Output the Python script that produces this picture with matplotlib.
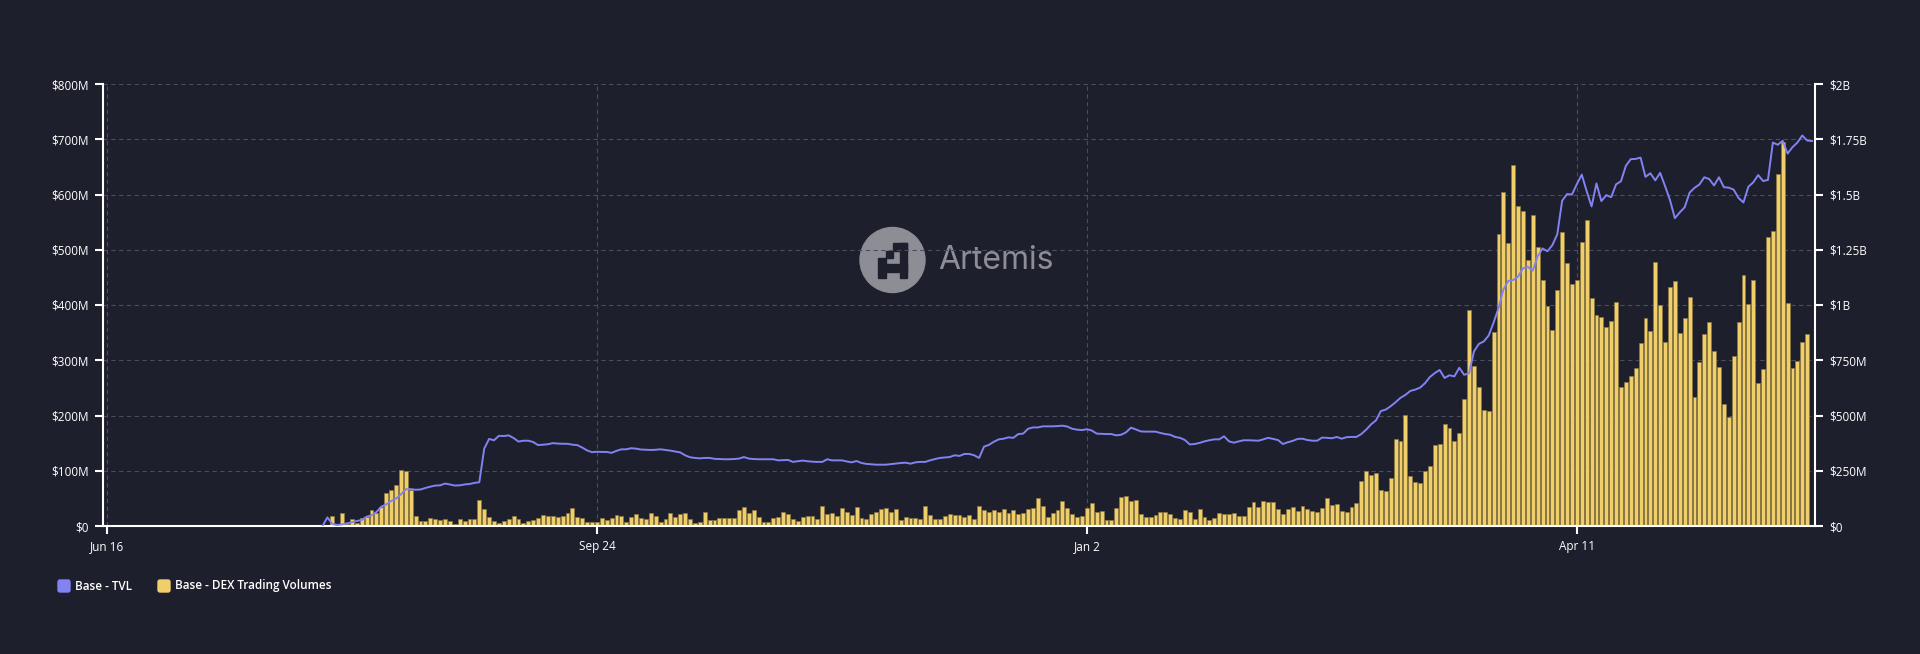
import pandas as pd
import matplotlib
matplotlib.use("Agg")
import matplotlib.pyplot as plt
import matplotlib.dates as mdates
from matplotlib.patches import Circle, Rectangle, FancyBboxPatch
from matplotlib.transforms import IdentityTransform

# Base - DEX trading volumes, $M per day (from 2023-08-01)
dex_volume = [
    18, 2, 23.5, 4, 12.7, 5, 14.5, 17, 29, 23,
    34, 60, 65, 74, 101, 99, 65, 18, 9, 9,
    14.5, 12.7, 11, 12.7, 9, 4, 12.7, 9, 12.7, 12.7,
    47, 31, 16, 9, 5.4, 9, 12.7, 18, 12.7, 5.4,
    9, 11, 14.5, 20, 18, 18, 16, 18, 23.5, 32.6,
    16, 14.5, 7, 7, 7, 14.5, 11, 14.5, 20, 18,
    7, 16, 21.7, 14.5, 12.7, 23.5, 18, 7, 12.7, 23.5,
    16, 21.7, 23.5, 12.7, 5.4, 7, 25.3, 11, 11, 14.5,
    14.5, 14.5, 14.5, 29, 34.4, 23.5, 29, 16, 7, 7,
    14.5, 16, 25.3, 21.7, 12.7, 9, 16, 18, 18, 12.7,
    36, 21.7, 23.5, 18, 32.6, 25.3, 20, 34.4, 14.5, 12.7,
    21.7, 25.3, 30.8, 32.6, 25.3, 30.8, 11, 16, 14.5, 14.5,
    12.7, 36, 20, 12.7, 12.7, 18, 21.7, 20, 20, 16,
    20, 12.7, 36, 29, 25.3, 29, 25.3, 30.8, 23.5, 29,
    21.7, 23.5, 30.8, 32.6, 50.7, 36, 16, 23.5, 29, 45,
    32.6, 21.7, 16, 18, 32.6, 41.6, 25.3, 27, 11, 11,
    32.6, 52.5, 54.3, 45, 47, 21.7, 16, 16, 20, 25.3,
    25.3, 21.7, 14.5, 12.7, 29, 25.3, 12.7, 30.8, 16, 11,
    14.5, 23.5, 21.7, 21.7, 23.5, 18, 18, 34.4, 43.4, 34.4,
    45, 43.4, 43.4, 30.8, 21.7, 30.8, 34.4, 27, 36, 30.8,
    27, 25.3, 32.6, 50.7, 38, 39.8, 27, 25.3, 34.4, 41.6,
    81.4, 99.5, 92.3, 96, 65, 63.3, 86.9, 157.5, 153.8, 201,
    90.5, 79.6, 77.8, 99.5, 108.6, 146.6, 148.4, 184.6, 177.4, 153.8,
    168.3, 229.9, 391, 289.6, 251.6, 210, 208, 351, 528, 604,
    512, 653, 579, 570, 481, 563, 505, 445, 398, 355,
    427, 532, 476, 438, 445, 514, 554, 413, 382, 378,
    360, 371, 405, 252, 261, 271, 286, 331, 376, 353,
    478, 400, 333, 433, 443, 349, 376, 414, 233, 297,
    348, 369, 317, 288, 221, 197, 308, 369, 454, 402,
    445, 259, 284, 523, 534, 637, 695, 404, 286, 299,
    333, 348,
]

# Base - TVL, $M per day (from 2023-07-30)
tvl = [
    0, 39, 9, 4.5, 7.5, 12, 16.6, 22.6, 27, 42,
    48, 63, 87.5, 98, 113, 124, 143, 166, 167, 164,
    165, 172, 178, 183, 184, 192, 188, 183, 184, 188,
    190, 195, 198, 350, 394, 388, 408, 407, 410, 398,
    382, 386, 386, 380, 366, 368, 370, 375, 373, 372,
    372, 368, 366, 355, 342, 334, 336, 335, 335, 331,
    340, 347, 347, 352, 350, 346, 345, 344, 345, 347,
    344, 341, 337, 333, 320, 311, 308, 306, 308, 308,
    304, 303, 302, 302, 303, 305, 312, 305, 303, 302,
    302, 302, 302, 297, 298, 299, 290, 293, 296, 293,
    291, 290, 290, 302, 297, 297, 297, 292, 288, 294,
    285, 281, 279, 277.5, 277.5, 277.5, 280, 283, 285, 286.6,
    282, 288, 290, 290, 297, 303, 308, 310, 312, 320,
    317, 326, 326, 320, 308, 359, 367, 381, 392, 395,
    401, 399, 416, 418, 440, 446, 446, 451, 451, 451,
    452, 454, 450, 440, 436, 434, 438, 432, 418, 417,
    416, 416, 410, 413, 424, 445, 437, 428, 427, 427,
    427, 421, 416, 413, 403, 399, 389, 369, 371, 376,
    383, 388, 392, 392, 406, 383, 377, 383, 388, 388,
    387, 386, 392, 399, 394, 389, 371, 379, 385, 394,
    395, 389, 386, 386, 400, 399, 397, 403, 395, 402,
    403, 403, 416, 436, 460, 478, 520, 527, 542, 560,
    580, 593, 611, 617, 626, 646, 674, 692, 706, 670,
    682, 677, 716, 684, 691, 790, 824, 835, 862, 920,
    985, 1070, 1109, 1113, 1128, 1166, 1173, 1155, 1220, 1256,
    1243, 1271, 1320, 1472, 1502, 1500, 1547, 1590, 1515, 1446,
    1550, 1470, 1497, 1488, 1546, 1560, 1630, 1660, 1661, 1667,
    1580, 1596, 1564, 1598, 1538, 1475, 1393, 1419, 1442, 1508,
    1530, 1545, 1578, 1570, 1541, 1578, 1533, 1531, 1522, 1484,
    1464, 1535, 1555, 1588, 1561, 1566, 1735, 1725, 1743, 1685,
    1714, 1735, 1767, 1744, 1742,
]

dex_dates = pd.date_range("2023-08-01", periods=len(dex_volume), freq="D")
tvl_dates = pd.date_range("2023-07-30", periods=len(tvl), freq="D")

x_ticks = pd.to_datetime(["2023-06-16", "2023-09-24", "2024-01-02", "2024-04-11"])
x_labels = [f"{d:%b} {d.day}" for d in x_ticks]
left_ticks = [0, 100, 200, 300, 400, 500, 600, 700, 800]
left_labels = ["$0", "$100M", "$200M", "$300M", "$400M", "$500M", "$600M", "$700M", "$800M"]
right_ticks = [0, 250, 500, 750, 1000, 1250, 1500, 1750, 2000]
right_labels = ["$0", "$250M", "$500M", "$750M", "$1B", "$1.25B", "$1.5B", "$1.75B", "$2B"]

BG = "#1e1f2c"
YELLOW = "#f0cf6b"
PURPLE = "#8282f2"
GRID = "#4b4d5c"
W, H = 1920, 654

plt.rcParams["font.family"] = ["Open Sans", "DejaVu Sans"]

fig = plt.figure(figsize=(W / 100, H / 100), dpi=100, facecolor=BG)
ax = fig.add_axes([103 / W, 1 - 526 / H, (1815 - 103) / W, (526 - 84) / H])
ax.patch.set_visible(False)
ax.set_axisbelow(True)

ax.bar(dex_dates, dex_volume, width=0.8, color=YELLOW, edgecolor="#8a7841",
       linewidth=0.5, zorder=2)

x0 = mdates.date2num(x_ticks[0])
ax.set_xlim(x0 - 0.8, x0 + 348.6)
ax.set_ylim(0, 800)
ax.set_xticks(x_ticks)
ax.set_xticklabels(x_labels)
ax.set_yticks(left_ticks)
ax.set_yticklabels(left_labels)
ax.grid(True, color=GRID, linestyle=(0, (4, 3)), linewidth=0.8)

for s in ["top", "right"]:
    ax.spines[s].set_visible(False)
for s in ["left", "bottom"]:
    ax.spines[s].set_color("white")
    ax.spines[s].set_linewidth(1.5)
ax.tick_params(colors="white", labelcolor="white", length=6, width=1.5,
               labelsize=8.5, pad=4)

ax2 = ax.twinx()
ax2.plot(tvl_dates, tvl, color=PURPLE, linewidth=1.4, zorder=3)
ax2.set_ylim(0, 2000)
ax2.set_yticks(right_ticks)
ax2.set_yticklabels(right_labels)
for s in ["top", "left", "bottom"]:
    ax2.spines[s].set_visible(False)
ax2.spines["right"].set_color("white")
ax2.spines["right"].set_linewidth(1.5)
ax2.tick_params(colors="white", labelcolor="white", length=6, width=1.5,
                labelsize=8.5, pad=4)

# watermark (pixel coords, origin bottom-left)
ident = IdentityTransform()
fig.add_artist(Circle((892.5, H - 260), 32.5, color="#8d8e95", transform=ident, zorder=-1))
glyph = [(100, 55, 140, 78), (78, 78, 100, 100), (55, 100, 78, 160),
         (78, 118, 140, 140), (120, 55, 140, 160)]
for x1, y1, x2, y2 in glyph:
    fx1, fx2 = 860 + x1 / 3, 860 + x2 / 3
    fy1, fy2 = H - (225 + y2 / 3), H - (225 + y1 / 3)
    fig.add_artist(Rectangle((fx1, fy1), fx2 - fx1, fy2 - fy1, color=BG,
                             transform=ident, zorder=-1))
fig.text(938 / W, 1 - 261 / H, "Artemis", color="#8d8e95", fontsize=23,
         family=["Inter", "DejaVu Sans"], va="center", ha="left", zorder=-1)

# legend
legend_items = [("Base - TVL", PURPLE, 58), ("Base - DEX Trading Volumes", YELLOW, 158)]
for label, col, lx in legend_items:
    fig.add_artist(FancyBboxPatch((lx, H - 592), 12, 12,
                                  boxstyle="round,pad=0,rounding_size=2",
                                  color=col, transform=ident))
    fig.text((lx + 17) / W, 1 - 586 / H, label, color="white", fontsize=8.5,
             fontweight="semibold", va="center", ha="left")

fig.savefig("out.png", dpi=100, facecolor=BG)
